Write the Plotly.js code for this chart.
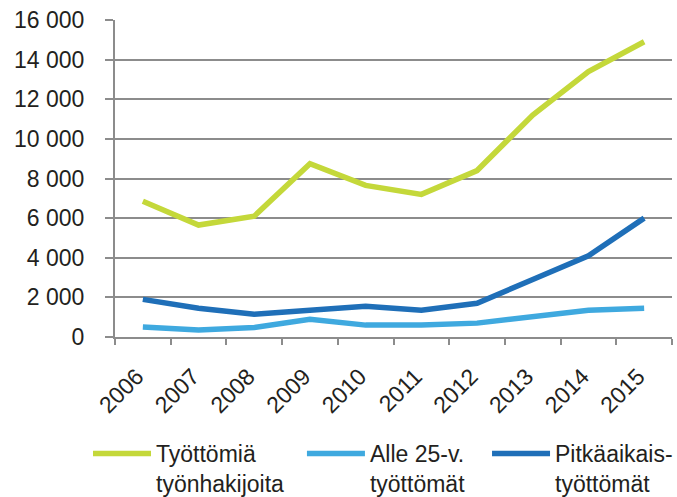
<!DOCTYPE html>
<html>
<head>
<meta charset="utf-8">
<script src="https://cdn.plot.ly/plotly-3.0.1.min.js"></script>
<style>
html,body{margin:0;padding:0;background:#fff;}
#chart{width:677px;height:497px;}
</style>
</head>
<body>
<div id="chart"></div>
<script>
var years = ["2006","2007","2008","2009","2010","2011","2012","2013","2014","2015"];
var seriesNames = ["Työttömiä<br>työnhakijoita", "Alle 25-v.<br>työttömät", "Pitkäaikais-<br>työttömät"];
var tyottomia = [6850, 5650, 6100, 8750, 7650, 7200, 8400, 11200, 13400, 14900];
var alle25 = [500, 350, 480, 900, 600, 600, 700, 1050, 1350, 1450];
var pitkaaikais = [1900, 1450, 1150, 1350, 1550, 1350, 1700, 2900, 4100, 6000];
var colors = ["#C4D83A", "#3FA9DF", "#1F6FB8"];

var values = [tyottomia, alle25, pitkaaikais];
var legendIds = ["legend", "legend2", "legend3"];
var traces = values.map(function(v, i){
  return {x: years, y: v, type: "scatter", mode: "lines", name: seriesNames[i],
          legend: legendIds[i], line: {color: colors[i], width: 5.5}};
});

function legendAt(xpos){
  return {orientation: "h", xref: "container", yref: "container", x: xpos, xanchor: "left",
          y: 0.1308, yanchor: "top", valign: "top", font: {size: 23},
          itemwidth: 58, bgcolor: "rgba(0,0,0,0)"};
}

var layout = {
  width: 677, height: 497,
  margin: {l: 115, r: 5, t: 19.5, b: 160, autoexpand: false},
  paper_bgcolor: "#fff", plot_bgcolor: "#fff",
  separators: ", ",
  font: {family: "Liberation Sans, Arial, sans-serif", size: 23, color: "#231F20"},
  showlegend: true,
  legend: legendAt(0.130),
  legend2: legendAt(0.446),
  legend3: legendAt(0.7194),
  xaxis: {type: "category", range: [-0.5, 9.5], tickangle: -45, showgrid: false, showline: true,
          linecolor: "#8C8C8C", linewidth: 2, ticks: "outside", tickson: "boundaries",
          ticklen: 6, tickwidth: 2, tickcolor: "#8C8C8C", zeroline: false,
          ticklabelshift: -6, ticklabelstandoff: 15},
  yaxis: {range: [0, 16000], dtick: 2000, tickformat: ",", showgrid: true,
          gridcolor: "#8C8C8C", gridwidth: 2, showline: true, linecolor: "#8C8C8C",
          linewidth: 2, ticks: "outside", ticklen: 8, tickwidth: 2, tickcolor: "#8C8C8C",
          zeroline: false, ticklabelstandoff: 16}
};

Plotly.newPlot("chart", traces, layout, {displayModeBar: false, staticPlot: true});
</script>
</body>
</html>
